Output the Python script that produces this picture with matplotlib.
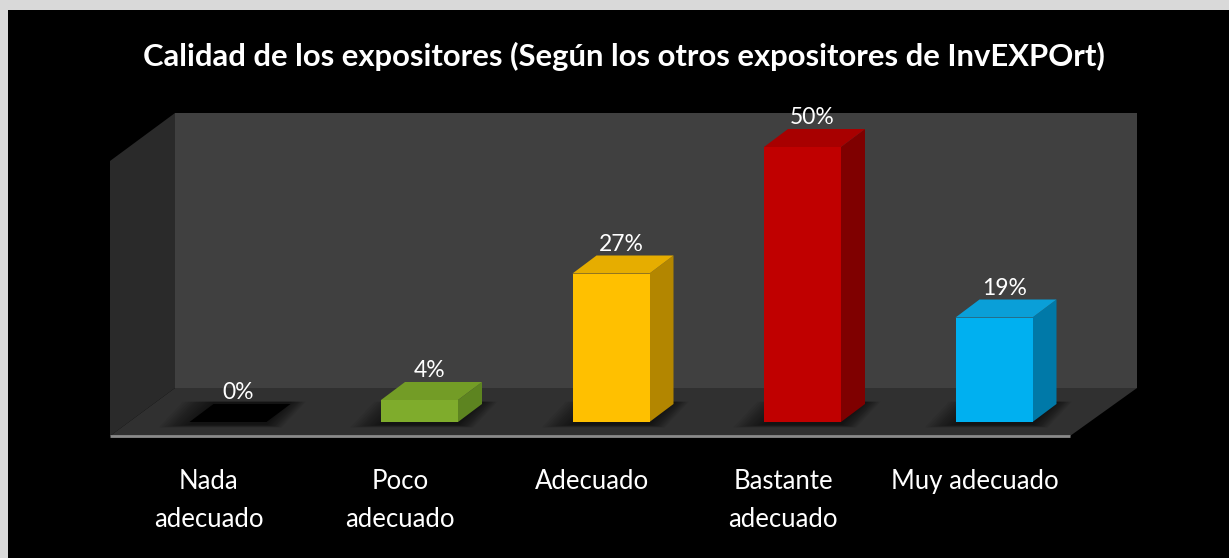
import numpy as np
import matplotlib
matplotlib.use("Agg")
import matplotlib.pyplot as plt
from matplotlib.patches import Polygon, Rectangle

# survey results
categories = ["Nada\nadecuado", "Poco\nadecuado", "Adecuado", "Bastante\nadecuado", "Muy adecuado"]
values = [0, 4, 27, 50, 19]
front_colors = ["#000000", "#7fac2c", "#ffc000", "#c00000", "#00b0f0"]
top_colors = ["#000000", "#739c26", "#e6ad00", "#a80000", "#0a9fd8"]
side_colors = ["#000000", "#5d8420", "#b38600", "#7f0000", "#0079a8"]

title = "Calidad de los expositores (Según los otros expositores de InvEXPOrt)"

W, H = 1229, 558
X0, SLOT = 228.0, 191.5     # pixel x of first bar centre, spacing
BASE, PPCT = 422.0, 5.5     # pixel y of bar base, pixels per percent


def px(x, y):
    return ((x - X0) / SLOT, (BASE - y) / PPCT)


plt.rcParams['font.family'] = ['Lato', 'DejaVu Sans']

fig = plt.figure(figsize=(W / 100, H / 100), dpi=100)
fig.patch.set_facecolor("#d9d9d9")
fig.add_artist(Rectangle((8 / W, 0), 1, (H - 10) / H, transform=fig.transFigure,
                         facecolor="black", edgecolor="none", zorder=0))

ax = fig.add_axes([0, 0, 1, 1])
ax.set_facecolor("none")
ax.set_xlim(-X0 / SLOT, (W - X0) / SLOT)
ax.set_ylim((BASE - H) / PPCT, BASE / PPCT)
ax.axis("off")

# walls and floor
back = [px(175, 113), px(1137, 113), px(1137, 388), px(175, 388)]
left = [px(110, 161), px(175, 113), px(175, 388), px(110, 436)]
floor = [px(175, 388), px(1137, 388), px(1070, 436), px(110, 436)]
ax.add_patch(Polygon(back, closed=True, facecolor="#404040", edgecolor="none", zorder=1))
ax.add_patch(Polygon(left, closed=True, facecolor="#2a2a2a", edgecolor="none", zorder=1))
ax.add_patch(Polygon(floor, closed=True, facecolor="#303030", edgecolor="none", zorder=1))
fx = [px(110, 436)[0], px(1070, 436)[0]]
fy = [px(110, 436)[1]] * 2
ax.plot(fx, fy, color="#8a8a8a", lw=2, zorder=2, solid_capstyle="butt")

xs = np.arange(len(values))
w = 77 / SLOT
dx, dy = 24 / SLOT, 18 / PPCT

# soft shadows under the bars, built from many faint layers
for x in xs:
    for k in np.linspace(0.16, 0.0, 12):
        sh = [(x - w / 2 - k, -0.5 - k * 3), (x + w / 2 + k * 0.5, -0.5 - k * 3),
              (x + w / 2 + dx + k * 0.5, dy + 0.4), (x - w / 2 - k + dx, dy + 0.4)]
        ax.add_patch(Polygon(sh, closed=True, facecolor="black", edgecolor="none",
                             alpha=0.06, zorder=2))

for x, v, tc, sc in zip(xs, values, top_colors, side_colors):
    side = [(x + w / 2, 0), (x + w / 2 + dx, dy), (x + w / 2 + dx, v + dy), (x + w / 2, v)]
    top = [(x - w / 2, v), (x + w / 2, v), (x + w / 2 + dx, v + dy), (x - w / 2 + dx, v + dy)]
    ax.add_patch(Polygon(side, closed=True, facecolor=sc, edgecolor="none", zorder=3))
    ax.add_patch(Polygon(top, closed=True, facecolor=tc, edgecolor="none", zorder=3))

ax.bar(xs, values, width=w, bottom=0, color=front_colors, zorder=4)

for x, v in zip(xs, values):
    ax.text(x + dx / 2 - 0.01, v + dy + 0.1, f"{v}%", color="white", fontsize=16.5,
            ha="center", va="bottom", zorder=5)

for x, c in zip(xs, categories):
    ax.text(x - 0.1, px(0, 469)[1], c, color="white", fontsize=18.5, ha="center",
            va="top", linespacing=1.65, zorder=5)

fig.text(624 / W, 1 - 56 / H, title, color="white", fontsize=22.3, fontweight="bold",
         ha="center", va="center")

fig.savefig("out.png", dpi=100, facecolor=fig.get_facecolor())
